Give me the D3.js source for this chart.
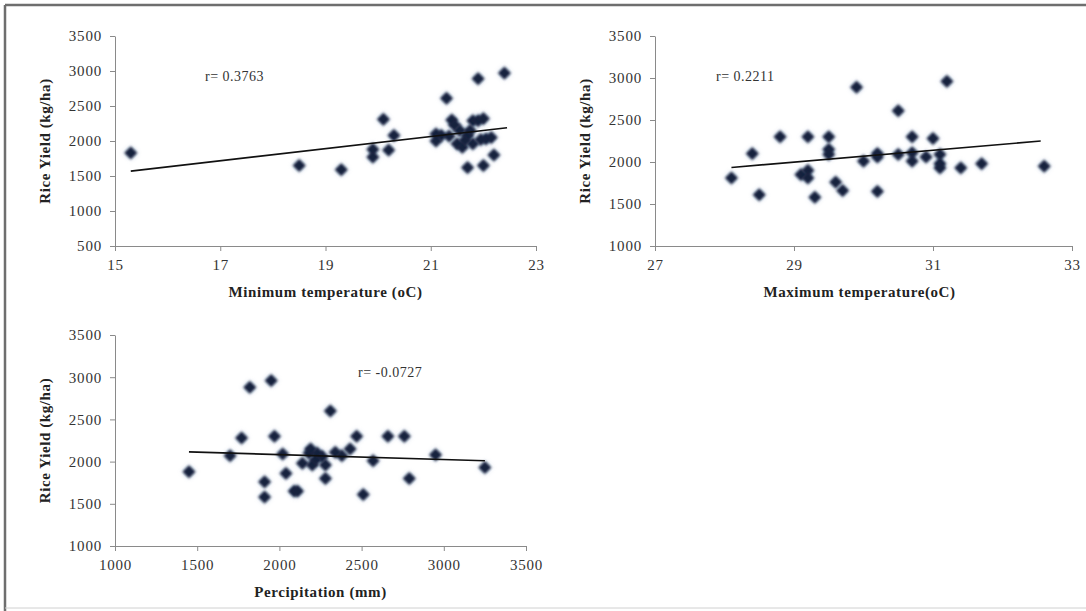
<!DOCTYPE html>
<html>
<head>
<meta charset="utf-8">
<script src="https://cdn.jsdelivr.net/npm/d3@7"></script>
<style>
  body { margin: 0; background: #fff; }
  svg { display: block; }
  .tick text { font-family: "Liberation Serif", "Times New Roman", serif; font-size: 15px; fill: #333; letter-spacing: 0.8px; }
  .tick line, .domain { stroke: #8a8a8a; }
  .title { font-family: "Liberation Serif", "Times New Roman", serif; font-size: 15px; font-weight: bold; fill: #222; letter-spacing: 0.6px; }
  .rlabel { font-family: "Liberation Serif", "Times New Roman", serif; font-size: 14px; fill: #333; letter-spacing: 0.5px; }
</style>
</head>
<body>
<div id="vis"></div>
<script>
// minimum temperature panel
const minTemp = [15.3, 18.5, 19.3, 19.9, 19.9, 20.1, 20.2, 20.3, 21.1, 21.1, 21.2, 21.3, 21.4, 21.5, 21.55, 21.6, 21.7,
  21.7, 21.8, 21.8, 21.9, 21.9, 22.0, 22.0, 22.05, 22.15, 22.2, 22.4, 21.45, 21.65, 21.95, 21.35, 21.75];
const minYield = [1830, 1650, 1590, 1880, 1770, 2310, 1870, 2080, 2100, 2000, 2080, 2610, 2300, 1960, 2150, 1910, 2080,
  1620, 2290, 1960, 2890, 2290, 2320, 1650, 2030, 2050, 1800, 2970, 2230, 2010, 2020, 2070, 2150];
const minTrendX = [15.3, 22.45];
const minTrendY = [1570, 2190];

// maximum temperature panel
const maxTemp = [28.1, 28.4, 28.5, 28.8, 29.1, 29.2, 29.2, 29.2, 29.3, 29.5, 29.5, 29.5, 29.6, 29.7, 29.9, 30.0, 30.2,
  30.2, 30.2, 30.5, 30.5, 30.7, 30.7, 30.7, 30.9, 31.0, 31.1, 31.1, 31.1, 31.2, 31.4, 31.7, 32.6];
const maxYield = [1810, 2100, 1610, 2300, 1850, 2300, 1900, 1810, 1580, 2300, 2150, 2090, 1760, 1660, 2890, 2010, 2100,
  1650, 2060, 2610, 2090, 2300, 2110, 2010, 2060, 2280, 2090, 1980, 1930, 2960, 1930, 1980, 1950];
const maxTrendX = [28.1, 32.55];
const maxTrendY = [1935, 2250];

// precipitation panel
const rain = [1450, 1700, 1770, 1820, 1910, 1910, 1950, 1970, 2020, 2040, 2090, 2110, 2140, 2180, 2190, 2200, 2220,
  2230, 2260, 2280, 2280, 2310, 2340, 2380, 2430, 2470, 2510, 2570, 2660, 2760, 2790, 2950, 3250];
const rainYield = [1880, 2070, 2280, 2880, 1580, 1760, 2960, 2300, 2090, 1860, 1650, 1650, 1980, 2100, 2150, 1960, 2020,
  2100, 2060, 1960, 1800, 2600, 2110, 2070, 2150, 2300, 1610, 2010, 2300, 2300, 1800, 2080, 1930];
const rainTrendX = [1450, 3250];
const rainTrendY = [2115, 2010];

const yTicks1 = [500, 1000, 1500, 2000, 2500, 3000, 3500];
const yTicks2 = [1000, 1500, 2000, 2500, 3000, 3500];

const FRAME_WIDTH = 1086;
const FRAME_HEIGHT = 611;

const FRAME = d3.select("#vis")
  .append("svg")
  .attr("width", FRAME_WIDTH)
  .attr("height", FRAME_HEIGHT);

const defs = FRAME.append("defs");
defs.append("filter").attr("id", "halo").attr("x", "-100%").attr("y", "-100%").attr("width", "300%").attr("height", "300%")
  .append("feGaussianBlur").attr("stdDeviation", 2.4);
defs.append("filter").attr("id", "soft").attr("x", "-50%").attr("y", "-50%").attr("width", "200%").attr("height", "200%")
  .append("feGaussianBlur").attr("stdDeviation", 0.8);

// outer border of the figure
FRAME.append("line").attr("x1", 5).attr("x2", FRAME_WIDTH).attr("y1", 5).attr("y2", 5)
  .attr("stroke", "#6e6e6e").attr("stroke-width", 2.5);
FRAME.append("line").attr("x1", 5).attr("x2", 5).attr("y1", 5).attr("y2", FRAME_HEIGHT)
  .attr("stroke", "#6e6e6e").attr("stroke-width", 2.5);
FRAME.append("line").attr("x1", 5).attr("x2", FRAME_WIDTH).attr("y1", 608).attr("y2", 608)
  .attr("stroke", "#d0d0d0").attr("stroke-width", 1);

const DIAMOND = d3.symbol().type(d3.symbolSquare).size(85);
const FMT = d3.format("d");

function panel(opts) {
  const X = d3.scaleLinear().domain(opts.xDomain).range([opts.left, opts.right]);
  const Y = d3.scaleLinear().domain(opts.yDomain).range([opts.bottom, opts.top]);

  const g = FRAME.append("g");

  g.append("g")
    .attr("transform", "translate(0," + opts.bottom + ")")
    .call(d3.axisBottom(X).tickValues(opts.xTicks).tickFormat(FMT).tickSize(5).tickSizeOuter(0).tickPadding(5))
    .call(a => a.selectAll(".tick text").attr("dy", "0.9em"));

  g.append("g")
    .attr("transform", "translate(" + opts.left + ",0)")
    .call(d3.axisLeft(Y).tickValues(opts.yTicks).tickFormat(FMT).tickSize(5).tickSizeOuter(0).tickPadding(8));

  const pts = d3.zip(opts.xs, opts.ys);

  // soft bluish glow behind every marker
  g.append("g").selectAll("path")
    .data(pts)
    .enter()
    .append("path")
    .attr("d", DIAMOND)
    .attr("transform", d => "translate(" + X(d[0]) + "," + Y(d[1]) + ") rotate(45)")
    .attr("fill", "#7f9cc4")
    .attr("opacity", 0.5)
    .attr("filter", "url(#halo)");

  g.append("g").selectAll("path")
    .data(pts)
    .enter()
    .append("path")
    .attr("d", DIAMOND)
    .attr("transform", d => "translate(" + X(d[0]) + "," + Y(d[1]) + ") rotate(45)")
    .attr("fill", "#14223c")
    .attr("filter", "url(#soft)");

  g.append("path")
    .datum(d3.zip(opts.trendX, opts.trendY))
    .attr("fill", "none")
    .attr("stroke", "#111")
    .attr("stroke-width", 1.6)
    .attr("d", d3.line().x(d => X(d[0])).y(d => Y(d[1])));

  g.append("text")
    .attr("class", "rlabel")
    .attr("x", opts.rX)
    .attr("y", opts.rY)
    .text(opts.rText);

  g.append("text")
    .attr("class", "title")
    .attr("text-anchor", "middle")
    .attr("x", (opts.left + opts.right) / 2 + opts.xTitleShift)
    .attr("y", opts.bottom + 51)
    .text(opts.xTitle);

  g.append("text")
    .attr("class", "title")
    .attr("text-anchor", "middle")
    .attr("transform", "translate(" + (opts.left - 65) + "," + ((opts.top + opts.bottom) / 2) + ") rotate(-90)")
    .text(opts.yTitle);
}

panel({
  left: 115, right: 536, top: 36, bottom: 246,
  xDomain: [15, 23], yDomain: [500, 3500],
  xTicks: [15, 17, 19, 21, 23], yTicks: yTicks1,
  xs: minTemp, ys: minYield, trendX: minTrendX, trendY: minTrendY,
  rText: "r= 0.3763", rX: 205, rY: 81,
  xTitle: "Minimum temperature (oC)", xTitleShift: 0,
  yTitle: "Rice Yield (kg/ha)"
});

panel({
  left: 655, right: 1072, top: 36, bottom: 246,
  xDomain: [27, 33], yDomain: [1000, 3500],
  xTicks: [27, 29, 31, 33], yTicks: yTicks2,
  xs: maxTemp, ys: maxYield, trendX: maxTrendX, trendY: maxTrendY,
  rText: "r= 0.2211", rX: 716, rY: 81,
  xTitle: "Maximum temperature(oC)", xTitleShift: -4,
  yTitle: "Rice Yield  (kg/ha)"
});

panel({
  left: 115, right: 526, top: 335, bottom: 546,
  xDomain: [1000, 3500], yDomain: [1000, 3500],
  xTicks: [1000, 1500, 2000, 2500, 3000, 3500], yTicks: yTicks2,
  xs: rain, ys: rainYield, trendX: rainTrendX, trendY: rainTrendY,
  rText: "r= -0.0727", rX: 358, rY: 377,
  xTitle: "Percipitation (mm)", xTitleShift: 0,
  yTitle: "Rice Yield (kg/ha)"
});
</script>
</body>
</html>
